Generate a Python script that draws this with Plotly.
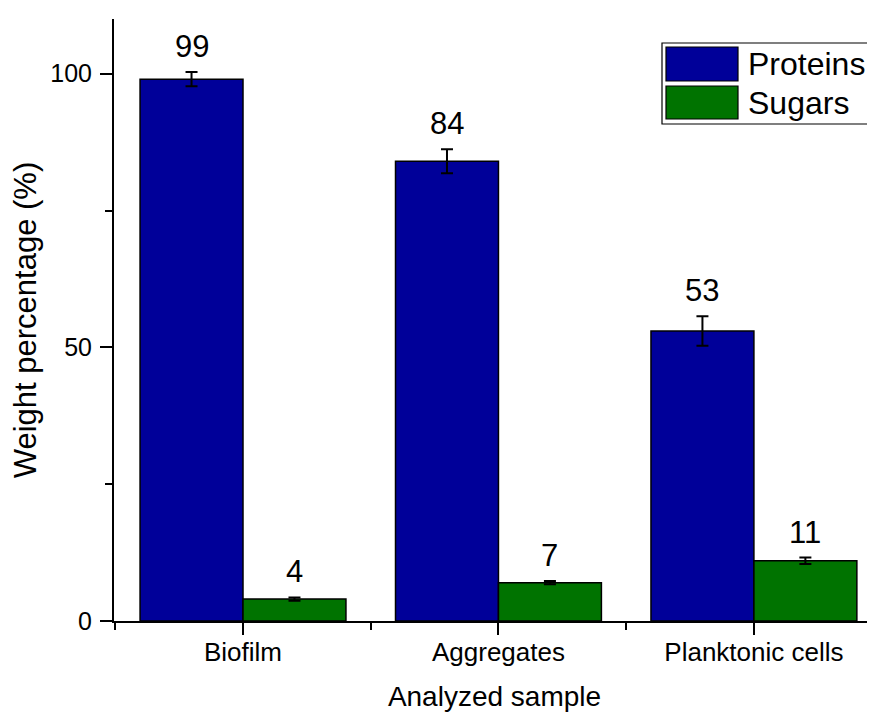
import plotly.graph_objects as go

categories = ["Biofilm", "Aggregates", "Planktonic cells"]
proteins = [99, 84, 53]
proteins_err = [1.3, 2.2, 2.7]
sugars = [4, 7, 11]
sugars_err = [0.3, 0.3, 0.6]
y_ticks = [0, 50, 100]

FONT = "Liberation Sans, Arial, sans-serif"
BLUE = "#000099"
GREEN = "#007300"

x_pos = list(range(len(categories)))

fig = go.Figure()
for name, vals, errs, col in [("Proteins", proteins, proteins_err, BLUE),
                              ("Sugars", sugars, sugars_err, GREEN)]:
    fig.add_trace(go.Bar(
        x=x_pos, y=vals, name=name,
        marker=dict(color=col, line=dict(color="black", width=1.5)),
        error_y=dict(type="data", array=errs, color="black", thickness=2, width=6),
        showlegend=False,
    ))

# page body has an 8px margin, so the figure is 8px smaller and shifted
fig.update_layout(
    width=867, height=705,
    margin=dict(l=106, r=0, t=11, b=92),
    paper_bgcolor="white", plot_bgcolor="white",
    barmode="group", bargap=0.194, bargroupgap=0,
    font=dict(family=FONT, color="black"),
)

fig.update_xaxes(
    range=[-0.505, 2.474], tickvals=x_pos, ticktext=categories,
    showline=True, linecolor="black", linewidth=2,
    ticks="outside", ticklen=12, tickwidth=2, tickcolor="black",
    tickfont=dict(size=26, family=FONT), ticklabelstandoff=-5,
    minor=dict(tickvals=[-0.5, 0.5, 1.5, 2.5], ticks="outside", ticklen=7, tickwidth=2, tickcolor="black"),
    showgrid=False, zeroline=False,
    title=dict(text="Analyzed sample", font=dict(size=28, family=FONT), standoff=20),
)
fig.update_yaxes(
    range=[0, 110], tickvals=y_ticks,
    showline=True, linecolor="black", linewidth=2,
    ticks="outside", ticklen=12, tickwidth=2, tickcolor="black",
    tickfont=dict(size=25, family=FONT), ticklabelstandoff=3,
    minor=dict(tickvals=[25, 75], ticks="outside", ticklen=7, tickwidth=2, tickcolor="black"),
    showgrid=False, zeroline=False,
    title=dict(text="Weight percentage (%)", font=dict(size=31, family=FONT), standoff=6),
)

# value labels above error bars
n = len(categories)
for i in range(n):
    for vals, errs, off in [(proteins, proteins_err, -0.2015), (sugars, sugars_err, 0.2015)]:
        fig.add_annotation(
            x=x_pos[i] + off, y=vals[i] + errs[i], text=str(vals[i]),
            showarrow=False, yanchor="bottom", yshift=6,
            font=dict(size=31, family=FONT, color="black"),
        )

# legend (drawn manually to get wide swatches); coordinates in screen px
W, H = 761.0, 602.0
def px(x):
    return (x - 114) / W
def py(y):
    return (621 - y) / H

fig.add_shape(type="rect", xref="paper", yref="paper",
              x0=px(662), x1=px(869), y0=py(124), y1=py(43),
              line=dict(color="black", width=1.2), fillcolor="white")
for (name, col, top, bot) in [("Proteins", BLUE, 47, 81), ("Sugars", GREEN, 86, 119)]:
    fig.add_shape(type="rect", xref="paper", yref="paper",
                  x0=px(666), x1=px(738), y0=py(bot), y1=py(top),
                  line=dict(color="black", width=1.2), fillcolor=col)
    fig.add_annotation(xref="paper", yref="paper", x=px(746), y=py((top + bot) / 2),
                       text=name, showarrow=False, xanchor="left", yanchor="middle",
                       font=dict(size=32, family=FONT, color="black"))

fig.write_html("out.html")
